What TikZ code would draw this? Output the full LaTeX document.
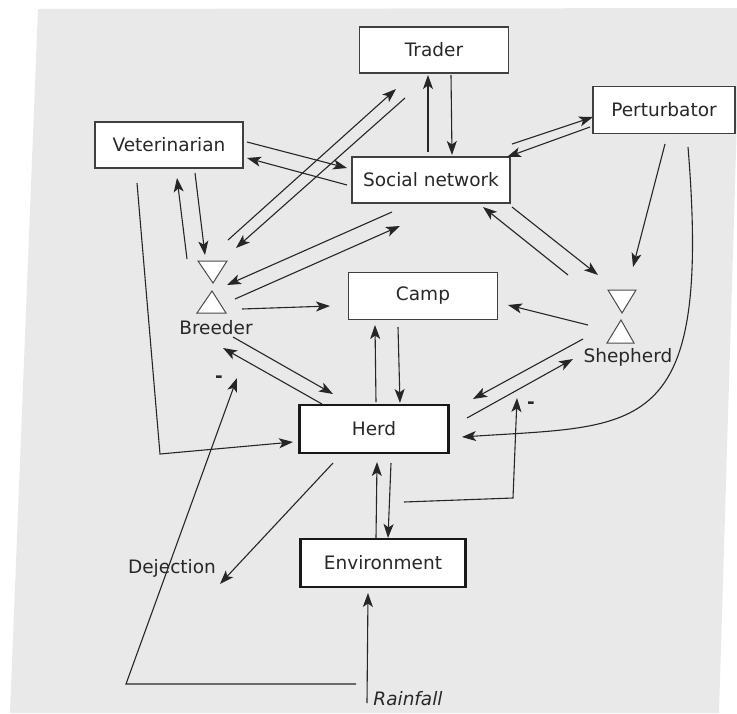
\documentclass[tikz,border=0pt]{standalone}
\usepackage{fontspec}
\setmainfont{DejaVu Sans}
\usetikzlibrary{arrows.meta}
\definecolor{bggrey}{RGB}{233,233,233}
\definecolor{ink}{RGB}{40,40,40}
\begin{document}
\begin{tikzpicture}[x=1pt,y=-1pt,
  lbl/.style={font=\fontsize{18.5}{22}\selectfont, text=ink, inner sep=0pt},
  box/.style={lbl, draw=black!75, fill=white, line width=1.3pt},
  boldbox/.style={box, draw=black!90, line width=2.4pt},
  tri/.style={draw=black!70, fill=white, line width=1pt},
  con/.style={draw=black!85, line width=1.1pt},
  arr/.style={con, -{Stealth[length=14pt,width=10pt,inset=3.5pt]}}]
\useasboundingbox (0,0) rectangle (737,713);
\fill[bggrey] (38,9) -- (737,8) -- (737,120) -- (719,713) -- (10,713) -- cycle;

% boxes
\node[box, minimum width=149pt, minimum height=46pt] (trader) at (434,50) {Trader};
\node[box, minimum width=142pt, minimum height=47pt] (pert) at (664,110) {Perturbator};
\node[box, minimum width=148pt, minimum height=46pt] (vet) at (169,145) {Veterinarian};
\node[box, minimum width=158pt, minimum height=46pt] (social) at (431,180) {Social network};
\node[box, minimum width=149pt, minimum height=47pt] (camp) at (423,296) {Camp};
\node[boldbox, minimum width=149pt, minimum height=48pt] (herd) at (374,429) {Herd};
\node[boldbox, minimum width=165pt, minimum height=48pt] (env) at (383,563) {Environment};

% actors
\draw[tri] (198,261) -- (227,261) -- (213,283) -- cycle;
\draw[tri] (212,291) -- (197,313) -- (226,313) -- cycle;
\node[lbl] (breeder) at (216,328) {Breeder};
\draw[tri] (608,290) -- (636,290) -- (622,313) -- cycle;
\draw[tri] (621,320) -- (607,343) -- (634,343) -- cycle;
\node[lbl] (shepherd) at (628,357) {Shepherd};

% free labels
\node[lbl] (dejection) at (172,568) {Dejection};
\node[lbl, font=\fontsize{18.5}{22}\selectfont\itshape] (rainfall) at (408,699) {Rainfall};
\node[lbl, font=\fontsize{18.5}{22}\selectfont\bfseries] (minusA) at (219,379) {-};
\node[lbl, font=\fontsize{18.5}{22}\selectfont\bfseries] (minusB) at (531,405) {-};

% endpoint coordinates
\coordinate (bT1) at (228,240); \coordinate (tB1) at (396,89);
\coordinate (tB2) at (405,98);  \coordinate (bT2) at (236,248);
\coordinate (sT1) at (428,152); \coordinate (tS1) at (428,75);
\coordinate (tS2) at (451,75);  \coordinate (sT2) at (452,155);
\coordinate (sP1) at (512,144); \coordinate (pS1) at (593,117);
\coordinate (pS2) at (590,127); \coordinate (sP2) at (507,157);
\coordinate (vS1) at (247,142); \coordinate (sV1) at (347,168);
\coordinate (sV2) at (347,185); \coordinate (vS2) at (247,158);
\coordinate (bV1) at (187,259); \coordinate (vB1) at (177,178);
\coordinate (vB2) at (195,173); \coordinate (bV2) at (205,255);
\coordinate (sB1) at (392,212); \coordinate (bS1) at (227,285);
\coordinate (bS2) at (235,299); \coordinate (sB2) at (400,226);
\coordinate (bC) at (242,309);  \coordinate (cB) at (330,306);
\coordinate (shS1) at (568,275); \coordinate (sSh1) at (483,207);
\coordinate (sSh2) at (512,207); \coordinate (shS2) at (598,275);
\coordinate (pSh) at (665,144); \coordinate (shP) at (633,267);
\coordinate (pH) at (688,147);  \coordinate (hP) at (462,437);
\coordinate (shC) at (588,325); \coordinate (cSh) at (508,305);
\coordinate (shH1) at (583,339); \coordinate (hSh1) at (473,399);
\coordinate (hSh2) at (467,418); \coordinate (shH2) at (573,359);
\coordinate (hF1) at (404,502); \coordinate (fK) at (513,498); \coordinate (fT) at (517,398);
\coordinate (hC1) at (376,402); \coordinate (cH1) at (375,325);
\coordinate (cH2) at (398,327); \coordinate (hC2) at (400,403);
\coordinate (hB1) at (322,404); \coordinate (bH1) at (223,348);
\coordinate (bH2) at (233,337); \coordinate (hB2) at (333,394);
\coordinate (vH1) at (137,183); \coordinate (vK) at (160,454); \coordinate (hV) at (293,442);
\coordinate (rS) at (356,684); \coordinate (rK) at (126,684); \coordinate (rT) at (237,378);
\coordinate (rE1) at (367,703); \coordinate (eR) at (368,593);
\coordinate (eH1) at (376,538); \coordinate (hE1) at (377,462);
\coordinate (hE2) at (391,463); \coordinate (eH2) at (388,538);
\coordinate (hD) at (333,463); \coordinate (dH) at (220,584);

% connectors
\draw[arr] (bT1) -- (tB1);
\draw[arr] (tB2) -- (bT2);
\draw[arr] (sT1) -- (tS1);
\draw[arr] (tS2) -- (sT2);
\draw[arr] (sP1) -- (pS1);
\draw[arr] (pS2) -- (sP2);
\draw[arr] (vS1) -- (sV1);
\draw[arr] (sV2) -- (vS2);
\draw[arr] (bV1) -- (vB1);
\draw[arr] (vB2) -- (bV2);
\draw[arr] (sB1) -- (bS1);
\draw[arr] (bS2) -- (sB2);
\draw[arr] (bC) -- (cB);
\draw[arr] (shS1) -- (sSh1);
\draw[arr] (sSh2) -- (shS2);
\draw[arr] (pSh) -- (shP);
\draw[arr] (pH) .. controls (712,440) and (640,425) .. (hP);
\draw[arr] (shC) -- (cSh);
\draw[arr] (shH1) -- (hSh1);
\draw[arr] (hSh2) -- (shH2);
\draw[arr] (hF1) -- (fK) -- (fT);
\draw[arr] (hC1) -- (cH1);
\draw[arr] (cH2) -- (hC2);
\draw[arr] (hB1) -- (bH1);
\draw[arr] (bH2) -- (hB2);
\draw[arr] (vH1) -- (vK) -- (hV);
\draw[arr] (rS) -- (rK) -- (rT);
\draw[arr] (rE1) -- (eR);
\draw[arr] (eH1) -- (hE1);
\draw[arr] (hE2) -- (eH2);
\draw[arr] (hD) -- (dH);
\end{tikzpicture}
\end{document}
